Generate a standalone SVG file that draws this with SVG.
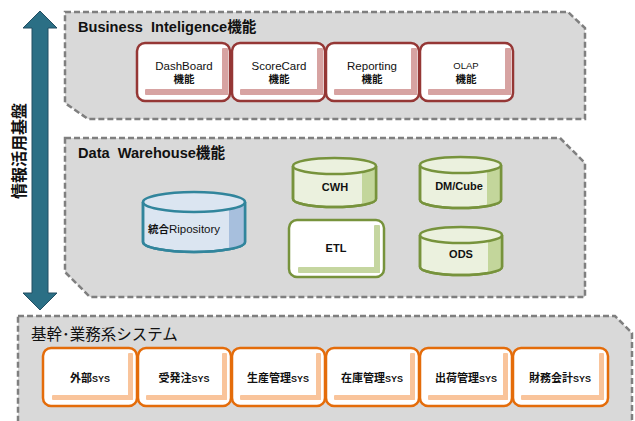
<svg xmlns="http://www.w3.org/2000/svg" width="635" height="421" viewBox="0 0 635 421">
  <style>
    .panel { fill: #d9d9d9; stroke: #7f7f7f; stroke-width: 2.5; stroke-dasharray: 6 3; }
    .title { font-family: "Liberation Sans", "Noto Sans CJK JP", sans-serif; font-weight: bold; font-size: 14.6px; fill: #111; }
    .base-title { font-family: "Liberation Sans", "Noto Sans CJK JP", sans-serif; font-size: 15.5px; fill: #111; }
    .lbl { font-family: "Liberation Sans", "Noto Sans CJK JP", sans-serif; text-anchor: middle; fill: #111; }
    .bi-box { fill: #fff; stroke: #953735; stroke-width: 2.5; }
    .bi-band { fill: #d7a3a2; }
    .sys-box { fill: #fff; stroke: #e46c0a; stroke-width: 2.5; }
    .sys-band { fill: #f9c49b; }
    .g-box { fill: #fff; stroke: #77933c; stroke-width: 2.5; }
    .g-band { fill: #c5d6a0; }
    .g-cyl { fill: #ebf1de; stroke: #77933c; stroke-width: 2.5; }
    .g-shade { fill: #c3d69b; }
    .b-cyl { fill: #dbe5f1; stroke: #31859c; stroke-width: 2.5; }
    .b-shade { fill: #a7bfdd; }
  </style>

  <!-- panels -->
  <path id="panel-bi" class="panel" d="M65,12 H568 L585,28 V119 H88 L65,103 Z"/>
  <path id="panel-dw" class="panel" d="M65,138 H560 L585,163 V297 H90 L65,272 Z"/>
  <path id="panel-base" class="panel" d="M18,316 H615 L632,333 V440 H40 L18,425 Z"/>

  <text class="title" x="78" y="32" xml:space="preserve">Business  Inteligence機能</text>
  <text class="title" x="78" y="158" xml:space="preserve">Data  Warehouse機能</text>
  <text class="base-title" x="31" y="340">基幹･業務系システム</text>

  <!-- vertical double arrow with label -->
  <g id="axis">
    <path d="M40,11 L57,28 H48 V293 H57 L40,310 L23,293 H32 V28 H23 Z" fill="#2b6f85" stroke="#234f63" stroke-width="1"/>
    <text class="lbl" transform="translate(25,151) rotate(-90)" font-size="16" font-weight="bold">情報活用基盤</text>
  </g>

  <!-- BI function boxes -->
  <g id="bi-dashboard">
    <rect class="bi-box" x="137" y="43" width="93" height="58" rx="8"/>
    <rect class="bi-band" x="222" y="48" width="6" height="47" rx="1"/>
    <rect class="bi-band" x="145" y="89" width="83" height="6" rx="1"/>
    <text class="lbl" x="184" y="70" font-size="11.5">DashBoard</text>
    <text class="lbl" x="184" y="83" font-size="10.5" font-weight="bold">機能</text>
  </g>
  <g id="bi-scorecard">
    <rect class="bi-box" x="232" y="43" width="93" height="58" rx="8"/>
    <rect class="bi-band" x="317" y="48" width="6" height="47" rx="1"/>
    <rect class="bi-band" x="240" y="89" width="83" height="6" rx="1"/>
    <text class="lbl" x="279" y="70" font-size="11.5">ScoreCard</text>
    <text class="lbl" x="279" y="83" font-size="10.5" font-weight="bold">機能</text>
  </g>
  <g id="bi-reporting">
    <rect class="bi-box" x="326" y="43" width="93" height="58" rx="8"/>
    <rect class="bi-band" x="411" y="48" width="6" height="47" rx="1"/>
    <rect class="bi-band" x="334" y="89" width="83" height="6" rx="1"/>
    <text class="lbl" x="372" y="70" font-size="11.5">Reporting</text>
    <text class="lbl" x="372" y="83" font-size="10.5" font-weight="bold">機能</text>
  </g>
  <g id="bi-olap">
    <rect class="bi-box" x="420" y="43" width="93" height="58" rx="8"/>
    <rect class="bi-band" x="505" y="48" width="6" height="47" rx="1"/>
    <rect class="bi-band" x="428" y="89" width="83" height="6" rx="1"/>
    <text class="lbl" x="466" y="69" font-size="9.5">OLAP</text>
    <text class="lbl" x="466" y="83" font-size="10.5" font-weight="bold">機能</text>
  </g>

  <!-- DW components -->
  <g id="dw-repository">
    <path class="b-cyl" d="M143,202 V242 A51,10 0 0 0 245,242 V202"/>
    <path class="b-shade" d="M229,209.3 V249.3 A51,10 0 0 0 245,242 V202 A51,10 0 0 1 229,209.3 Z"/>
    <path fill="none" stroke="#31859c" stroke-width="2.5" d="M143,202 V242 A51,10 0 0 0 245,242 V202"/>
    <ellipse class="b-cyl" cx="194" cy="202" rx="51" ry="10"/>
    <text class="lbl" x="184" y="233" font-size="11.5"><tspan font-weight="bold" font-size="10.5">統合</tspan>Ripository</text>
  </g>
  <g id="dw-cwh">
    <path class="g-cyl" d="M293,166 V199 A41.5,8 0 0 0 376,199 V166"/>
    <path class="g-shade" d="M362,172 V205 A41.5,8 0 0 0 376,199 V166 A41.5,8 0 0 1 362,172 Z"/>
    <path fill="none" stroke="#77933c" stroke-width="2.5" d="M293,166 V199 A41.5,8 0 0 0 376,199 V166"/>
    <ellipse class="g-cyl" cx="334.5" cy="166" rx="41.5" ry="8"/>
    <text class="lbl" x="335" y="191" font-size="11" font-weight="bold">CWH</text>
  </g>
  <g id="dw-dmcube">
    <path class="g-cyl" d="M420,165 V200 A40.5,8 0 0 0 501,200 V165"/>
    <path class="g-shade" d="M487,171 V206 A40.5,8 0 0 0 501,200 V165 A40.5,8 0 0 1 487,171 Z"/>
    <path fill="none" stroke="#77933c" stroke-width="2.5" d="M420,165 V200 A40.5,8 0 0 0 501,200 V165"/>
    <ellipse class="g-cyl" cx="460.5" cy="165" rx="40.5" ry="8"/>
    <text class="lbl" x="459" y="190" font-size="11" font-weight="bold">DM/Cube</text>
  </g>
  <g id="dw-etl">
    <rect class="g-box" x="289" y="220" width="95" height="57" rx="8"/>
    <rect class="g-band" x="374" y="225" width="6" height="48" rx="1"/>
    <rect class="g-band" x="298" y="267" width="82" height="6" rx="1"/>
    <text class="lbl" x="336" y="252" font-size="11" font-weight="bold">ETL</text>
  </g>
  <g id="dw-ods">
    <path class="g-cyl" d="M420,235 V267 A41,8 0 0 0 502,267 V235"/>
    <path class="g-shade" d="M488,241 V273 A41,8 0 0 0 502,267 V235 A41,8 0 0 1 488,241 Z"/>
    <path fill="none" stroke="#77933c" stroke-width="2.5" d="M420,235 V267 A41,8 0 0 0 502,267 V235"/>
    <ellipse class="g-cyl" cx="461" cy="235" rx="41" ry="8"/>
    <text class="lbl" x="461" y="258" font-size="11" font-weight="bold">ODS</text>
  </g>

  <!-- core business systems -->
  <g id="sys-gaibu">
    <rect class="sys-box" x="43" y="348" width="94" height="58" rx="8"/>
    <rect class="sys-band" x="128" y="353" width="5" height="47" rx="1"/>
    <rect class="sys-band" x="52" y="395" width="81" height="5" rx="1"/>
    <text class="lbl" x="90" y="382" font-size="11" font-weight="bold">外部<tspan font-size="9">SYS</tspan></text>
  </g>
  <g id="sys-juhacchu">
    <rect class="sys-box" x="138" y="348" width="93" height="58" rx="8"/>
    <rect class="sys-band" x="222" y="353" width="5" height="47" rx="1"/>
    <rect class="sys-band" x="146" y="395" width="81" height="5" rx="1"/>
    <text class="lbl" x="184" y="382" font-size="11" font-weight="bold">受発注<tspan font-size="9">SYS</tspan></text>
  </g>
  <g id="sys-seisan">
    <rect class="sys-box" x="232" y="348" width="93" height="58" rx="8"/>
    <rect class="sys-band" x="316" y="353" width="5" height="47" rx="1"/>
    <rect class="sys-band" x="240" y="395" width="81" height="5" rx="1"/>
    <text class="lbl" x="278" y="382" font-size="11" font-weight="bold">生産管理<tspan font-size="9">SYS</tspan></text>
  </g>
  <g id="sys-zaiko">
    <rect class="sys-box" x="326" y="348" width="93" height="58" rx="8"/>
    <rect class="sys-band" x="410" y="353" width="5" height="47" rx="1"/>
    <rect class="sys-band" x="334" y="395" width="81" height="5" rx="1"/>
    <text class="lbl" x="372" y="382" font-size="11" font-weight="bold">在庫管理<tspan font-size="9">SYS</tspan></text>
  </g>
  <g id="sys-shukka">
    <rect class="sys-box" x="420" y="348" width="92" height="58" rx="8"/>
    <rect class="sys-band" x="503" y="353" width="5" height="47" rx="1"/>
    <rect class="sys-band" x="428" y="395" width="80" height="5" rx="1"/>
    <text class="lbl" x="466" y="382" font-size="11" font-weight="bold">出荷管理<tspan font-size="9">SYS</tspan></text>
  </g>
  <g id="sys-zaimu">
    <rect class="sys-box" x="513" y="348" width="95" height="58" rx="8"/>
    <rect class="sys-band" x="599" y="353" width="5" height="47" rx="1"/>
    <rect class="sys-band" x="521" y="395" width="83" height="5" rx="1"/>
    <text class="lbl" x="560" y="382" font-size="11" font-weight="bold">財務会計<tspan font-size="9">SYS</tspan></text>
  </g>

  <!-- no connectors in this layout -->
  <g id="connectors"/>
</svg>
